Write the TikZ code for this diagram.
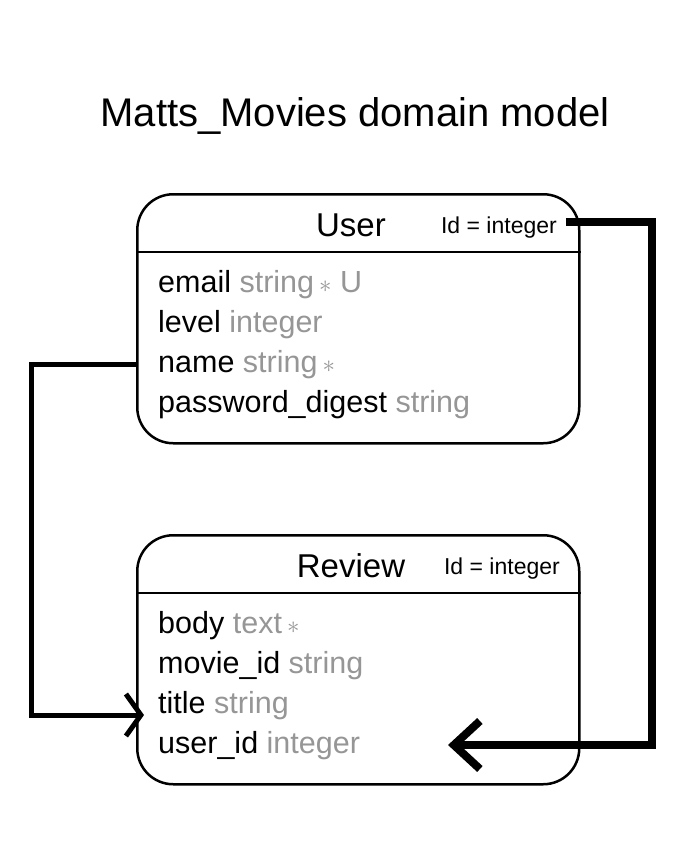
\documentclass[tikz,border=0pt]{standalone}
\usepackage{fontspec}
\setmainfont{Liberation Sans}
\usetikzlibrary{arrows.meta}
\definecolor{typegray}{RGB}{150,150,150}
\begin{document}
\begin{tikzpicture}[x=1pt,y=-1pt,
  box/.style={draw,line width=2.5pt,rounded corners=36pt,minimum width=442pt,minimum height=249pt,anchor=north west,inner sep=0pt},
  sep/.style={line width=2pt},
  entname/.style={font=\fontsize{33}{38}\selectfont,anchor=base,inner sep=0pt},
  idlabel/.style={font=\fontsize{23}{27}\selectfont,anchor=base east,inner sep=0pt},
  field/.style={font=\fontsize{30.5}{35}\selectfont,anchor=base west,inner sep=0pt},
  conn/.style={line width=#1,line join=miter,line cap=butt}]
\useasboundingbox[fill=white] (0,0) rectangle (696,848);
\newcommand{\tp}[1]{{\color{typegray}#1}}
\newcommand{\st}{\,{\color{typegray}$\ast$}}

\node[font=\fontsize{40}{48}\selectfont,anchor=base,inner sep=0pt] (title) at (355,127) {Matts\_Movies domain model};

% User entity
\node[box] (user) at (136,193) {};
\draw[sep] (user.west |- 0,252) -- (user.east |- 0,252);
\node[entname] (username) at (351,236) {User};
\node[idlabel] (userid) at (557,233) {Id = integer};
\node[field] (uemail) at (158,292) {email \tp{string}\st\ \tp{U}};
\node[field] (ulevel) at (158,332) {level \tp{integer}};
\node[field] (uname) at (158,372) {name \tp{string}\st};
\node[field] (upass) at (158,412) {password\_digest \tp{string}};

% Review entity
\node[box] (review) at (136,534) {};
\draw[sep] (review.west |- 0,593) -- (review.east |- 0,593);
\node[entname] (reviewname) at (351,577) {Review};
\node[idlabel] (reviewid) at (560,574) {Id = integer};
\node[field] (rbody) at (158,633) {body \tp{text}\st};
\node[field] (rmovie) at (158,673) {movie\_id \tp{string}};
\node[field] (rtitle) at (158,713) {title \tp{string}};
\node[field] (ruser) at (158,753) {user\_id \tp{integer}};

% connector coordinates
\coordinate (ra) at (566,222);
\coordinate (rb) at (652,222);
\coordinate (rc) at (652,745);
\coordinate (rtip) at (448,745);
\coordinate (la) at (138,364);
\coordinate (lb) at (31,364);
\coordinate (lc) at (31,715);
\coordinate (ltip) at (144,715);

\draw[conn=8pt,-{Straight Barb[length=26pt,width=48pt]}] (ra) -- (rb) -- (rc) -- (rtip);
\draw[conn=5pt,-{Straight Barb[length=15pt,width=42pt]}] (la) -- (lb) -- (lc) -- (ltip);
\end{tikzpicture}
\end{document}
